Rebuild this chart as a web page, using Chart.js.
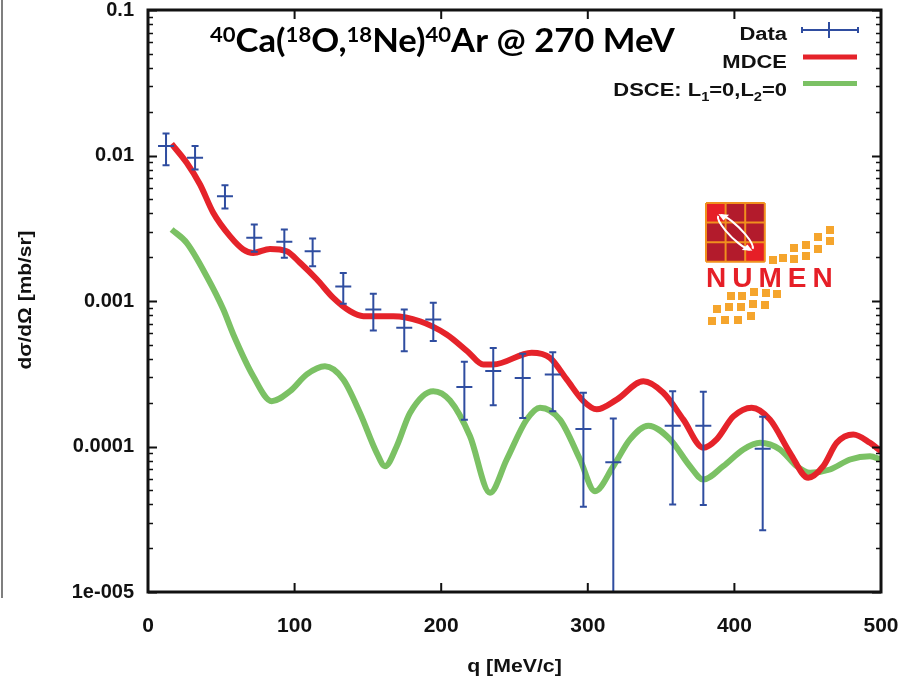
<!DOCTYPE html>
<html>
<head>
<meta charset="utf-8">
<script src="https://cdn.jsdelivr.net/npm/chart.js@4.4.1/dist/chart.umd.min.js"></script>
<style>
  html, body { margin: 0; padding: 0; background: #fff; }
  #wrap { width: 902px; height: 682px; position: relative; }
</style>
</head>
<body>
<div id="wrap"><canvas id="cx"></canvas></div>
<script>
// measured cross sections, q in MeV/c, dσ/dΩ in mb/sr
const dataQ  = [12.3, 32.1, 52.5, 72.5, 93.0, 112.3, 133.2, 153.7, 174.8, 194.6, 215.8, 235.5, 255.6, 276.1, 297.0, 317.4, 357.9, 378.8, 419.3];
const dataY  = [0.0116, 0.00964, 0.00525, 0.00272, 0.00255, 0.00220, 0.00126, 0.000875, 0.000655, 0.000746, 0.000256, 0.00033, 0.000296, 0.000313, 0.000132, 0.000078, 0.000139, 0.000139, 0.0000964];
const dataHi = [0.01416, 0.0116, 0.00625, 0.00336, 0.00310, 0.00269, 0.00156, 0.00112, 0.000875, 0.000973, 0.000382, 0.000476, 0.000434, 0.000445, 0.000234, 0.000156, 0.00024, 0.000238, 0.00016];
const dataLo = [0.00857, 0.00801, 0.00433, 0.00218, 0.00198, 0.00173, 0.000958, 0.000627, 0.000452, 0.00053, 0.000153, 0.000192, 0.000157, 0.000175, 0.0000386, 0.000005, 0.0000399, 0.0000396, 0.0000266];

// MDCE calculation
const mdceQ = [16.1, 26.4, 35.5, 44.5, 55.9, 65, 71.8, 83.2, 94.6, 103.7, 115.1, 126.4, 137.8, 146.9, 167.3, 185.5, 203.7, 218, 228.7, 235.5, 261.7, 274.2, 285.6, 297, 306.1, 319.7, 337.9, 351.5, 365.2, 378.8, 387.9, 399.3, 411.8, 424.3, 437.9, 450.4, 460.6, 469.8, 481.1, 492.5, 500];
const mdceY = [0.01202, 0.00891, 0.00632, 0.00404, 0.00279, 0.00226, 0.00214, 0.00228, 0.00220, 0.00183, 0.00141, 0.00105, 0.000851, 0.000786, 0.000786, 0.000726, 0.000589, 0.00045, 0.000366, 0.000366, 0.000441, 0.000407, 0.000289, 0.000205, 0.00018, 0.00021, 0.000281, 0.000234, 0.000153, 0.000098, 0.000112, 0.000161, 0.000185, 0.000153, 0.0000905, 0.0000609, 0.0000732, 0.000106, 0.000121, 0.000106, 0.0000928];

// DSCE calculation, L1=0, L2=0
const dsceQ = [16.1, 26.4, 40, 51.4, 58.2, 71.8, 84.4, 96.9, 108.3, 120.7, 133.2, 144.6, 156, 161.7, 169.6, 178.7, 194.6, 206, 219.6, 233.3, 244.7, 258.3, 267.4, 281, 294.7, 304.9, 317.4, 328.8, 341.3, 356.1, 369.7, 378.8, 392.4, 406.1, 417.5, 431.1, 442.5, 451.6, 465.2, 478.9, 492.5, 500];
const dsceY = [0.0031, 0.00251, 0.00148, 0.000874, 0.000589, 0.000304, 0.000205, 0.00024, 0.000313, 0.000356, 0.000289, 0.00017, 0.0000905, 0.0000732, 0.0001, 0.00017, 0.00024, 0.000207, 0.000118, 0.0000481, 0.0000814, 0.000153, 0.000185, 0.000153, 0.0000814, 0.0000493, 0.0000732, 0.000112, 0.000139, 0.000112, 0.0000732, 0.0000593, 0.0000732, 0.0000954, 0.000106, 0.0000954, 0.0000732, 0.0000659, 0.0000695, 0.0000814, 0.0000857, 0.0000814];

const xTicks = [0, 100, 200, 300, 400, 500];
const yTickLabels = ["1e-005", "0.0001", "0.001", "0.01", "0.1"];
const titleParts = [["40", 1], ["Ca(", 0], ["18", 1], ["O,", 0], ["18", 1], ["Ne)", 0], ["40", 1], ["Ar @ 270 MeV", 0]];

const RED = "#e5232a";
const GREEN = "#7bc164";
const BLUE = "#2f4da0";
const ARIAL = "'Liberation Sans', Arial, sans-serif";

function pts(xs, ys){
  return xs.map((x, i) => ({ x, y: ys[i] }));
}

function isDecade(v){
  const e = Math.log10(v);
  return Math.abs(e - Math.round(e)) < 1e-6;
}

// text squeezed/stretched horizontally
function wideText(ctx, txt, x, y, sx, align){
  ctx.save();
  ctx.translate(x, y);
  ctx.scale(sx, 1);
  ctx.textAlign = align || "left";
  ctx.fillText(txt, 0, 0);
  ctx.restore();
}

function drawTitle(ctx){
  ctx.save();
  ctx.fillStyle = "#000";
  ctx.textBaseline = "alphabetic";
  const sx = 1.05;
  let x = 210;
  for (const [t, sup] of titleParts){
    ctx.font = sup ? "bold 21px Lato" : "bold 33px Lato";
    wideText(ctx, t, x, sup ? 42 : 52, sx, "left");
    x += ctx.measureText(t).width * sx;
  }
  ctx.restore();
}

function drawLegend(ctx){
  ctx.save();
  ctx.fillStyle = "#111";
  ctx.textBaseline = "alphabetic";
  ctx.font = `bold 18px ${ARIAL}`;
  const sx = 1.22, right = 787;
  wideText(ctx, "Data", right, 40, sx, "right");
  wideText(ctx, "MDCE", right, 68, sx, "right");
  // DSCE: L1=0,L2=0 with subscripts, laid out right to left
  const segs = [["DSCE: L", 0], ["1", 1], ["=0,L", 0], ["2", 1], ["=0", 0]];
  let w = 0;
  for (const [t, sub] of segs){
    ctx.font = sub ? `bold 12px ${ARIAL}` : `bold 18px ${ARIAL}`;
    w += ctx.measureText(t).width * sx;
  }
  let x = right - w;
  for (const [t, sub] of segs){
    ctx.font = sub ? `bold 12px ${ARIAL}` : `bold 18px ${ARIAL}`;
    wideText(ctx, t, x, sub ? 101 : 96, sx, "left");
    x += ctx.measureText(t).width * sx;
  }

  // samples
  ctx.lineCap = "butt";
  ctx.strokeStyle = BLUE;
  ctx.lineWidth = 2;
  ctx.beginPath();
  ctx.moveTo(802, 30); ctx.lineTo(858, 30);
  ctx.moveTo(829, 22); ctx.lineTo(829, 38);
  ctx.moveTo(802, 27); ctx.lineTo(802, 33);
  ctx.moveTo(858, 27); ctx.lineTo(858, 33);
  ctx.stroke();
  ctx.lineWidth = 5;
  ctx.strokeStyle = RED;
  ctx.beginPath(); ctx.moveTo(803, 57); ctx.lineTo(857, 57); ctx.stroke();
  ctx.strokeStyle = GREEN;
  ctx.beginPath(); ctx.moveTo(803, 83.5); ctx.lineTo(857, 83.5); ctx.stroke();
  ctx.restore();
}

function drawAxisTitles(ctx, area){
  ctx.save();
  ctx.fillStyle = "#111";
  ctx.font = `bold 19px ${ARIAL}`;
  ctx.textBaseline = "middle";
  wideText(ctx, "q [MeV/c]", (area.left + area.right) / 2, 667, 1.12, "center");
  ctx.translate(26, 300);
  ctx.rotate(-Math.PI / 2);
  wideText(ctx, "dσ/dΩ [mb/sr]", 0, 0, 1.1, "center");
  ctx.restore();
}

function drawLogo(ctx){
  ctx.save();
  const x0 = 706, y0 = 203, c = 19.6;
  for (let r = 0; r < 3; r++){
    for (let k = 0; k < 3; k++){
      const bright = (r === 0 && k === 0) || (r === 2 && k === 2);
      ctx.fillStyle = bright ? "#e61f27" : "#b31b2c";
      ctx.fillRect(x0 + k * c, y0 + r * c, c, c);
    }
  }
  ctx.strokeStyle = "#f0901e";
  ctx.lineWidth = 2;
  for (let i = 0; i <= 3; i++){
    ctx.beginPath(); ctx.moveTo(x0 + i * c, y0); ctx.lineTo(x0 + i * c, y0 + 3 * c); ctx.stroke();
    ctx.beginPath(); ctx.moveTo(x0, y0 + i * c); ctx.lineTo(x0 + 3 * c, y0 + i * c); ctx.stroke();
  }
  // exchange arrows
  const cxl = x0 + 1.5 * c, cyl = y0 + 1.5 * c;
  ctx.save();
  ctx.translate(cxl, cyl);
  ctx.rotate(Math.PI / 4);
  ctx.strokeStyle = "#fff";
  ctx.lineWidth = 2;
  ctx.beginPath(); ctx.ellipse(0, 0, 24, 6, 0, Math.PI + 0.35, 2 * Math.PI - 0.1); ctx.stroke();
  ctx.beginPath(); ctx.ellipse(0, 0, 24, 6, 0, 0.35, Math.PI - 0.1); ctx.stroke();
  ctx.fillStyle = "#fff";
  ctx.beginPath(); ctx.moveTo(-25, -1); ctx.lineTo(-17, -8); ctx.lineTo(-17, 0); ctx.closePath(); ctx.fill();
  ctx.beginPath(); ctx.moveTo(25, 1); ctx.lineTo(17, 8); ctx.lineTo(17, 0); ctx.closePath(); ctx.fill();
  ctx.restore();

  ctx.fillStyle = "#e61f27";
  ctx.font = `bold 28px ${ARIAL}`;
  ctx.textBaseline = "alphabetic";
  let x = 706;
  for (const ch of "NUMEN"){
    ctx.fillText(ch, x, 287);
    x += ctx.measureText(ch).width + 6;
  }

  ctx.fillStyle = "#f5a52d";
  const sq = [
    [769, 256], [779, 254], [790, 255], [790, 244], [802, 252], [802, 241],
    [814, 233], [814, 245], [826, 226], [826, 237],
    [727, 292], [738, 292], [750, 288], [762, 289], [773, 290],
    [713, 305], [725, 303], [737, 303], [749, 300], [761, 301],
    [708, 317], [721, 316], [734, 316], [747, 312]
  ];
  for (const [sx, sy] of sq) ctx.fillRect(sx, sy, 8, 8);
  ctx.restore();
}

const decor = {
  id: "decor",
  afterDatasetsDraw(chart){
    const ctx = chart.ctx, a = chart.chartArea;
    const xs = chart.scales.x, ys = chart.scales.y;
    // error bars for the data set
    const meta = chart.getDatasetMeta(2);
    ctx.save();
    ctx.beginPath();
    ctx.rect(a.left, a.top, a.right - a.left, a.bottom - a.top);
    ctx.clip();
    ctx.strokeStyle = BLUE;
    ctx.lineWidth = 2;
    meta.data.forEach((p, i) => {
      const yh = ys.getPixelForValue(dataHi[i]);
      const yl = ys.getPixelForValue(dataLo[i]);
      ctx.beginPath();
      ctx.moveTo(p.x, yh); ctx.lineTo(p.x, yl);
      ctx.moveTo(p.x - 8, p.y); ctx.lineTo(p.x + 8, p.y);
      ctx.moveTo(p.x - 3.5, yh); ctx.lineTo(p.x + 3.5, yh);
      if (yl < a.bottom){ ctx.moveTo(p.x - 3.5, yl); ctx.lineTo(p.x + 3.5, yl); }
      ctx.stroke();
    });
    ctx.restore();

    // frame and inside ticks
    ctx.save();
    ctx.strokeStyle = "#111";
    for (let e = -5; e <= -1; e++){
      for (let m = 1; m <= 9; m++){
        const v = m * Math.pow(10, e);
        if (v > 0.1 * 1.0001) break;
        const py = Math.round(ys.getPixelForValue(v)) + 0.5;
        const len = m === 1 ? 9 : 5;
        ctx.lineWidth = m === 1 ? 2 : 1.5;
        ctx.beginPath();
        ctx.moveTo(a.left, py); ctx.lineTo(a.left + len, py);
        ctx.moveTo(a.right, py); ctx.lineTo(a.right - len, py);
        ctx.stroke();
      }
    }
    ctx.lineWidth = 2;
    xTicks.forEach((t) => {
      const px = xs.getPixelForValue(t);
      ctx.beginPath();
      ctx.moveTo(px, a.bottom); ctx.lineTo(px, a.bottom - 9);
      ctx.moveTo(px, a.top); ctx.lineTo(px, a.top + 9);
      ctx.stroke();
    });
    ctx.lineWidth = 3;
    ctx.strokeRect(a.left, a.top, a.right - a.left, a.bottom - a.top);
    ctx.restore();

    // sliver of neighbouring panel at the left edge
    ctx.save();
    ctx.strokeStyle = "#555";
    ctx.lineWidth = 1.5;
    ctx.beginPath(); ctx.moveTo(2, 0); ctx.lineTo(2, 598); ctx.stroke();
    ctx.restore();

    drawTitle(ctx);
    drawLegend(ctx);
    drawAxisTitles(ctx, a);
    drawLogo(ctx);
  }
};

new Chart(document.getElementById("cx"), {
  type: "line",
  data: {
    datasets: [
      { label: "DSCE: L1=0,L2=0", data: pts(dsceQ, dsceY), borderColor: GREEN, borderWidth: 6, pointRadius: 0, cubicInterpolationMode: "monotone", order: 3 },
      { label: "MDCE", data: pts(mdceQ, mdceY), borderColor: RED, borderWidth: 6, pointRadius: 0, cubicInterpolationMode: "monotone", order: 2 },
      { label: "Data", type: "scatter", data: pts(dataQ, dataY), pointRadius: 0, showLine: false, order: 1 },
    ],
  },
  options: {
    responsive: true,
    maintainAspectRatio: false,
    animation: false,
    layout: { padding: { top: 10, right: 21, bottom: 0, left: 0 } },
    plugins: { legend: { display: false }, tooltip: { enabled: false } },
    scales: {
      x: {
        type: "linear", min: 0, max: 500,
        grid: { display: false, drawTicks: false },
        border: { display: false },
        afterBuildTicks: (s) => { s.ticks = xTicks.map((v) => ({ value: v })); },
        afterFit: (s) => { s.height = 90; s.paddingLeft = 0; s.paddingRight = 0; },
        ticks: { color: "#111", padding: 22, maxRotation: 0, font: { family: ARIAL, size: 21, weight: "bold" } },
      },
      y: {
        type: "logarithmic", min: 1e-5, max: 0.1,
        grid: { display: false, drawTicks: false },
        border: { display: false },
        afterFit: (s) => { s.width = 148; s.paddingTop = 0; s.paddingBottom = 0; },
        ticks: {
          autoSkip: false, color: "#111", padding: 14,
          font: { family: ARIAL, size: 20, weight: "bold" },
          callback: (v) => isDecade(v) ? yTickLabels[Math.round(Math.log10(v)) + 5] : "",
        },
      },
    },
  },
  plugins: [decor],
});
</script>
</body>
</html>
